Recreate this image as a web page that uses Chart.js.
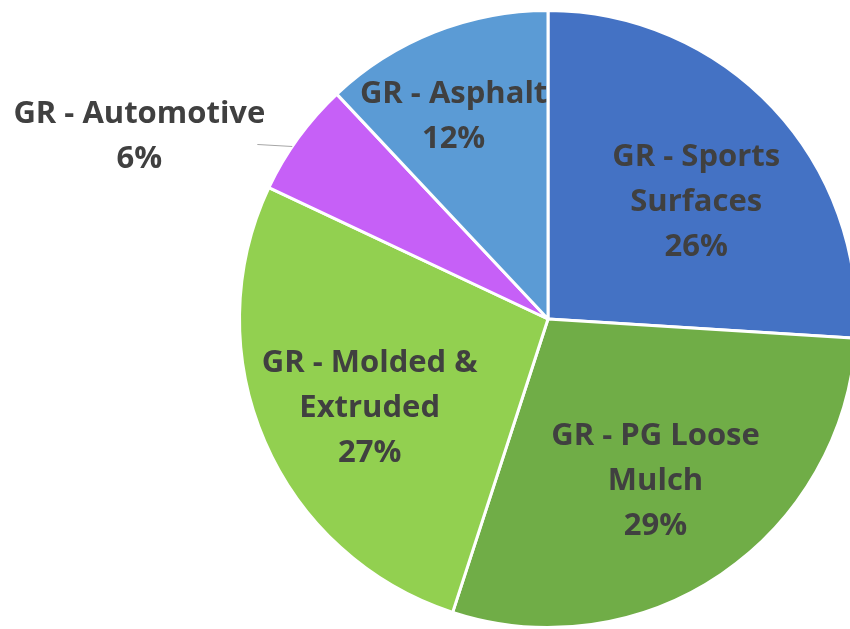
<!DOCTYPE html>
<html>
<head>
<meta charset="utf-8">
<script src="https://cdn.jsdelivr.net/npm/chart.js@4.4.1/dist/chart.umd.min.js"></script>
<style>
  html, body { margin:0; padding:0; background:#fff; overflow:hidden; width:850px; height:629px; }
  .wrap { position:absolute; left:0; top:0; width:900px; height:629px; }
</style>
</head>
<body>
<div class="wrap"><canvas id="pie"></canvas></div>
<script>
// ── Data ──────────────────────────────────────────────
const categories = [
  ['GR - Sports', 'Surfaces'],
  ['GR - PG Loose', 'Mulch'],
  ['GR - Molded &', 'Extruded'],
  ['GR - Automotive'],
  ['GR - Asphalt'],
];
const shares = [26, 29, 27, 6, 12];
const colors = ['#4472C4', '#70AD47', '#92D050', '#C660F7', '#5B9BD5'];

// label placement: radius factor + angle shift (deg), Excel-like "best fit"
const labelRadius = [0.62, 0.62, 0.64, 1.45, 0.735];
const labelShift  = [4, 0, -2, -12, -3];
const outsideLabel = [false, false, false, true, false];

const sliceLabels = {
  id: 'sliceLabels',
  afterDatasetsDraw(chart) {
    const { ctx } = chart;
    const meta = chart.getDatasetMeta(0);
    const total = shares.reduce((a, b) => a + b, 0);
    ctx.save();
    ctx.font = 'bold 31px "Open Sans"';
    ctx.fillStyle = '#404040';
    ctx.textAlign = 'center';
    ctx.textBaseline = 'middle';
    const lh = 45;
    meta.data.forEach((arc, i) => {
      const { x, y, startAngle, endAngle, outerRadius } = arc.getProps(['x', 'y', 'startAngle', 'endAngle', 'outerRadius'], true);
      const mid = (startAngle + endAngle) / 2;
      const a = mid + labelShift[i] * Math.PI / 180;
      const r = outerRadius * labelRadius[i];
      const lx = x + Math.cos(a) * r;
      const ly = y + Math.sin(a) * r + (outsideLabel[i] ? 0 : 4);
      const lines = categories[i].concat([Math.round(shares[i] / total * 100) + '%']);
      const top = ly - (lines.length - 1) * lh / 2;
      lines.forEach((t, k) => ctx.fillText(t, lx, top + k * lh));

      if (outsideLabel[i]) {
        // leader line from the slice edge toward the label
        const ea = mid - 2 * Math.PI / 180;
        const ex = x + Math.cos(ea) * outerRadius;
        const ey = y + Math.sin(ea) * outerRadius;
        ctx.strokeStyle = '#a6a6a6';
        ctx.lineWidth = 1;
        ctx.beginPath();
        ctx.moveTo(ex, ey);
        ctx.lineTo(lx + 118, ey - 2);
        ctx.stroke();
      }
    });
    ctx.restore();
  }
};

new Chart(document.getElementById('pie'), {
  type: 'pie',
  data: {
    labels: categories.map(c => c.join(' ')),
    datasets: [{
      data: shares,
      backgroundColor: colors,
      borderColor: '#ffffff',
      borderWidth: 3,
    }],
  },
  options: {
    responsive: true, maintainAspectRatio: false,
    animation: false,
    layout: { padding: { left: 238, top: 9, right: 42, bottom: 0 } },
    plugins: { legend: { display: false }, tooltip: { enabled: false } },
  },
  plugins: [sliceLabels],
});
</script>
</body>
</html>
